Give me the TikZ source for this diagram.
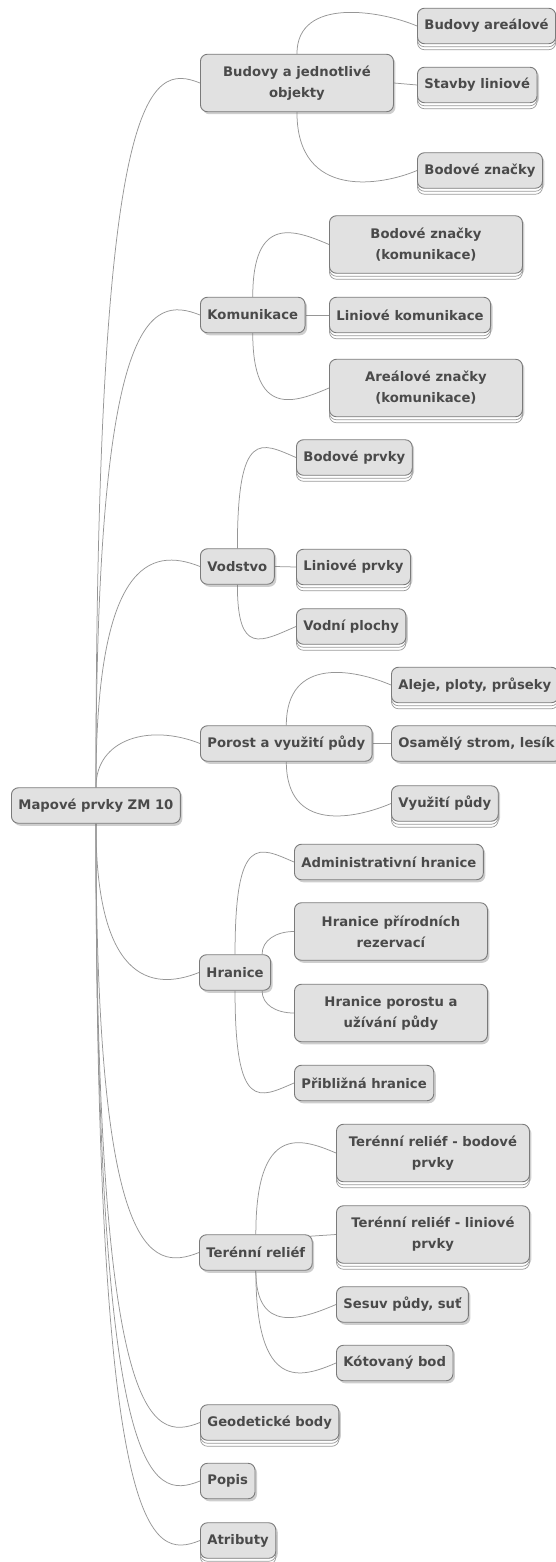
\documentclass[tikz,border=0pt]{standalone}
\usepackage{fontspec}
\setmainfont{DejaVu Sans}
\usetikzlibrary{calc,shadows,backgrounds}
\definecolor{mmfill}{HTML}{E1E1E1}
\definecolor{mmline}{HTML}{7A7A7A}
\definecolor{mmtext}{HTML}{4A4A4A}
\definecolor{mmedge}{HTML}{969696}
\definecolor{mmstack}{HTML}{9A9A9A}

\begin{document}
\begin{tikzpicture}[x=1pt, y=-1pt,
    topic/.style={draw=mmline, line width=0.9pt, fill=mmfill, rounded corners=7pt, text=mmtext,
        font=\fontsize{13.2}{21}\selectfont\bfseries, inner xsep=7pt, inner ysep=0pt,
        minimum height=35.5pt, align=center, anchor=west,
        drop shadow={shadow xshift=2pt, shadow yshift=-2.5pt, opacity=0.35, fill=black!55}},
    twoline/.style={minimum height=57.5pt, minimum width=193pt},
    stacked/.style={copy shadow={shadow xshift=0pt, shadow yshift=-6pt, fill=white, draw=mmstack, line width=0.7pt},
        copy shadow={shadow xshift=0pt, shadow yshift=-3pt, fill=white, draw=mmstack, line width=0.7pt}},
    branch/.style={draw=mmedge, line width=0.75pt},
    trunkup/.style={to path={.. controls ($(\tikztostart |- \tikztotarget)+(0,-5)$) and ($(\tikztotarget)+(-50,-20)$) .. (\tikztotarget)}},
    trunkdown/.style={to path={.. controls ($(\tikztostart |- \tikztotarget)+(0,5)$) and ($(\tikztotarget)+(-50,20)$) .. (\tikztotarget)}},
    forkup/.style={to path={.. controls ($(\tikztostart |- \tikztotarget)+(0,-30)$) and ($(\tikztotarget)+(-35,-15)$) .. (\tikztotarget)}},
    forkdown/.style={to path={.. controls ($(\tikztostart |- \tikztotarget)+(0,30)$) and ($(\tikztotarget)+(-35,15)$) .. (\tikztotarget)}}
]
\useasboundingbox (0,0) rectangle (556,1562);

% Root
\node[topic] (root) at (11,805.5) {Mapové prvky ZM 10};

% Budovy
\node[topic, twoline] (bud) at (200,83) {Budovy a jednotlivé\\objekty};
\node[topic, stacked] (bud1) at (417,26) {Budovy areálové};
\node[topic, stacked] (bud2) at (417,85) {Stavby liniové};
\node[topic, stacked] (bud3) at (417,170.5) {Bodové značky};

% Komunikace
\node[topic] (kom) at (200,315) {Komunikace};
\node[topic, twoline, stacked] (kom1) at (329,244.5) {Bodové značky\\(komunikace)};
\node[topic, stacked] (kom2) at (329,315) {Liniové komunikace};
\node[topic, twoline, stacked] (kom3) at (329,388) {Areálové značky\\(komunikace)};

% Vodstvo
\node[topic] (vod) at (200,566.5) {Vodstvo};
\node[topic, stacked] (vod1) at (296,457.5) {Bodové prvky};
\node[topic, stacked] (vod2) at (296,567) {Liniové prvky};
\node[topic, stacked] (vod3) at (296,626.5) {Vodní plochy};

% Porost
\node[topic] (por) at (200,743.5) {Porost a využití půdy};
\node[topic, stacked] (por1) at (391,685) {Aleje, ploty, průseky};
\node[topic] (por2) at (391,743.5) {Osamělý strom, lesík};
\node[topic, stacked] (por3) at (391,803.5) {Využití půdy};

% Hranice
\node[topic] (hra) at (199,972.5) {Hranice};
\node[topic] (hra1) at (294,862) {Administrativní hranice};
\node[topic, twoline] (hra2) at (294,931.5) {Hranice přírodních\\rezervací};
\node[topic, twoline] (hra3) at (294,1013) {Hranice porostu a\\užívání půdy};
\node[topic] (hra4) at (294,1083) {Přibližná hranice};

% Terenni relief
\node[topic] (ter) at (199,1252.5) {Terénní reliéf};
\node[topic, twoline, stacked] (ter1) at (336,1153) {Terénní reliéf - bodové\\prvky};
\node[topic, twoline, stacked] (ter2) at (336,1234.5) {Terénní reliéf - liniové\\prvky};
\node[topic] (ter3) at (336,1304.5) {Sesuv půdy, suť};
\node[topic] (ter4) at (336,1363) {Kótovaný bod};

% Remaining topics
\node[topic, stacked] (geo) at (200,1422.5) {Geodetické body};
\node[topic] (pop) at (200,1481) {Popis};
\node[topic, stacked] (atr) at (200,1540.5) {Atributy};

% Edges
\begin{scope}[on background layer]
\draw[branch, trunkup] (root.north) to (bud.west);
\draw[branch, trunkup] (root.north) to (kom.west);
\draw[branch, trunkup] (root.north) to (vod.west);
\draw[branch, trunkup] (root.north) to (por.west);
\draw[branch, trunkdown] (root.south) to (hra.west);
\draw[branch, trunkdown] (root.south) to (ter.west);
\draw[branch, trunkdown] (root.south) to (geo.west);
\draw[branch, trunkdown] (root.south) to (pop.west);
\draw[branch, trunkdown] (root.south) to (atr.west);

\draw[branch, forkup] (bud.north) to (bud1.west);
\draw[branch] (bud.east) -- (bud2.west);
\draw[branch, forkdown] (bud.south) to (bud3.west);

\draw[branch, forkup] (kom.north) to (kom1.west);
\draw[branch] (kom.east) -- (kom2.west);
\draw[branch, forkdown] (kom.south) to (kom3.west);

\draw[branch, forkup] (vod.north) to (vod1.west);
\draw[branch] (vod.east) -- (vod2.west);
\draw[branch, forkdown] (vod.south) to (vod3.west);

\draw[branch, forkup] (por.north) to (por1.west);
\draw[branch] (por.east) -- (por2.west);
\draw[branch, forkdown] (por.south) to (por3.west);

\draw[branch, forkup] (hra.north) to (hra1.west);
\draw[branch] ([xshift=-9pt]hra.north east) .. controls +(0,-14) and +(-18,0) .. (hra2.west);
\draw[branch] ([xshift=-9pt]hra.south east) .. controls +(0,14) and +(-18,0) .. (hra3.west);
\draw[branch, forkdown] (hra.south) to (hra4.west);

\draw[branch, forkup] (ter.north) to (ter1.west);
\draw[branch] ([xshift=-4pt,yshift=-2pt]ter.north east) -- (ter2.west);
\draw[branch, forkdown] (ter.south) to (ter3.west);
\draw[branch, forkdown] (ter.south) to (ter4.west);
\end{scope}
\end{tikzpicture}
\end{document}
